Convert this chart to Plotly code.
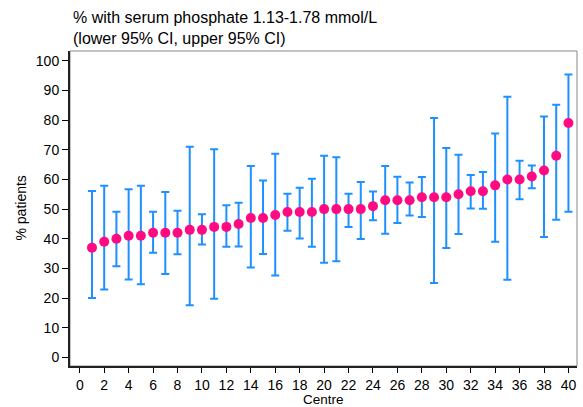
import plotly.graph_objects as go

centre = list(range(1, 41))
pct = [37, 39, 40, 41, 41, 42, 42, 42, 43, 43, 44, 44, 45, 47, 47, 48, 49, 49, 49, 50,
       50, 50, 50, 51, 53, 53, 53, 54, 54, 54, 55, 56, 56, 58, 60, 60, 61, 63, 68, 79]
lower = [20.0, 22.9, 30.7, 26.3, 24.7, 35.3, 28.1, 34.8, 17.6, 38.1, 19.8, 37.3, 37.4, 30.3, 34.9, 27.6,
         42.7, 40.1, 37.3, 31.9, 32.4, 44.0, 39.9, 46.2, 41.7, 45.3, 47.8, 47.3, 25.1, 36.9, 41.6, 50.2,
         50.1, 39.0, 26.2, 53.3, 57.0, 40.6, 46.4, 49.1]
upper = [56.1, 57.9, 49.1, 56.7, 57.9, 49.1, 55.8, 49.4, 71.0, 48.3, 70.2, 51.3, 52.1, 64.5, 59.6, 68.7,
         55.2, 57.2, 60.2, 68.0, 67.5, 55.2, 59.1, 55.9, 64.5, 60.9, 59.0, 60.8, 80.7, 70.6, 68.3, 61.5,
         62.5, 75.5, 87.9, 66.3, 64.7, 81.2, 85.2, 95.4]
xticks = list(range(0, 41, 2))
yticks = list(range(0, 101, 10))

err_plus = [u - p for u, p in zip(upper, pct)]
err_minus = [p - l for p, l in zip(pct, lower)]

font = "Liberation Sans, Arial, Helvetica, sans-serif"

fig = go.Figure()
fig.add_trace(go.Scatter(
    x=centre, y=pct, mode="markers",
    marker=dict(color="#FF0A80", size=10, line=dict(width=0)),
    error_y=dict(type="data", symmetric=False, array=err_plus, arrayminus=err_minus,
                 color="#1E90FF", thickness=2, width=4),
    showlegend=False,
))

fig.add_shape(type="rect", xref="x domain", yref="y domain", x0=0, x1=1, y0=0, y1=1,
              line=dict(color="#888888", width=1), layer="below")

fig.update_layout(
    width=583, height=407,
    margin=dict(l=70, r=6, t=51, b=41),
    paper_bgcolor="white", plot_bgcolor="white",
    font=dict(family=font, size=14, color="black"),
    xaxis=dict(range=[-0.8, 40.7], tickmode="array", tickvals=xticks, ticks="outside",
               ticklen=5, tickwidth=1, tickcolor="black", showgrid=False, zeroline=False,
               showline=True, linecolor="#222222", linewidth=2, tickfont=dict(size=14)),
    yaxis=dict(range=[-2.9, 103.3], tickmode="array", tickvals=yticks, ticks="outside",
               ticklen=6, tickwidth=1, tickcolor="black", showgrid=False, zeroline=False,
               showline=True, linecolor="#222222", linewidth=2, tickfont=dict(size=14)),
    annotations=[
        dict(text="% with serum phosphate 1.13-1.78 mmol/L<br>(lower 95% CI, upper 95% CI)",
             xref="paper", yref="paper", x=0, y=1, xanchor="left", yanchor="bottom",
             xshift=1, yshift=2, showarrow=False, align="left",
             font=dict(size=16, family=font, color="black")),
        dict(text="Centre", xref="paper", yref="paper", x=0.5, y=0, xanchor="center",
             yanchor="top", yshift=-25, showarrow=False, borderpad=0,
             font=dict(size=13.5, family=font)),
        dict(text="% patients", xref="paper", yref="paper", x=0, y=0.5, xanchor="center",
             yanchor="middle", xshift=-50, textangle=-90, showarrow=False,
             font=dict(size=14, family=font)),
    ],
)

fig.write_html("out.html")
